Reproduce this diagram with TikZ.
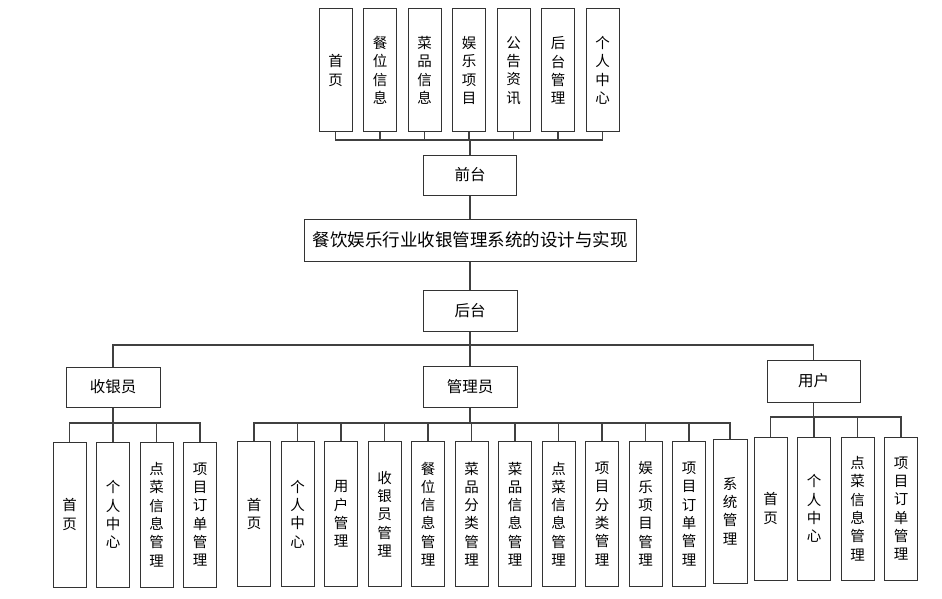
\documentclass[tikz,border=0pt]{standalone}
\usepackage{fontspec}
\newfontfamily\cjk{Noto Sans CJK SC}
\usepackage{tikz}
\usetikzlibrary{calc}

\tikzset{
  box/.style={draw=black!80, line width=1pt, minimum width=94pt, minimum height=41pt, inner sep=0pt,
    font=\cjk\fontsize{15.5}{18}\selectfont},
  vbox/.style={draw=black!80, line width=1pt, minimum width=33pt, minimum height=145pt, inner sep=0pt,
    align=center, font=\cjk\fontsize{14.5}{18.3}\selectfont},
  link/.style={draw=black!75, line width=1.1pt},
}

\begin{document}
\begin{tikzpicture}[x=1pt,y=-1pt]
			\useasboundingbox (0,0) rectangle (942,599);

			% oben: Vordergrund
			\node[vbox, minimum height=123pt] (t1) at (335.5,70.5) {首\\页};
			\node[vbox, minimum height=123pt] (t2) at ($(t1)+(44.5,0)$) {餐\\位\\信\\息};
			\node[vbox, minimum height=123pt] (t3) at ($(t2)+(44.5,0)$) {菜\\品\\信\\息};
			\node[vbox, minimum height=123pt] (t4) at ($(t3)+(44.5,0)$) {娱\\乐\\项\\目};
			\node[vbox, minimum height=123pt] (t5) at ($(t4)+(44.5,0)$) {公\\告\\资\\讯};
			\node[vbox, minimum height=123pt] (t6) at ($(t5)+(44.5,0)$) {后\\台\\管\\理};
			\node[vbox, minimum height=123pt] (t7) at ($(t6)+(44.5,0)$) {个\\人\\中\\心};

			\node[box, minimum width=93pt, minimum height=40pt] (qian) at (470,175) {前台};
			\node[box, minimum width=332pt, minimum height=42pt, font=\cjk\fontsize{17.5}{18}\selectfont] (sys) at (470,240) {餐饮娱乐行业收银管理系统的设计与实现};
			\node[box] (hou) at (470,310.5) {后台};

			\coordinate (busT) at (470,140);
			\coordinate (busH) at (470,345);

			% zweite Ebene
			\node[box, minimum height=40pt] (syy) at (113,387) {收银员};
			\node[box] (gly) at (470,386.5) {管理员};
			\node[box, minimum width=93pt, minimum height=42pt] (yh) at (813.5,381) {用户};

			%收银员
			\node[vbox] (s1) at (69.5,514.5) {首\\页};
			\node[vbox] (s2) at ($(s1)+(43.5,0)$) {个\\人\\中\\心};
			\node[vbox] (s3) at ($(s2)+(43.5,0)$) {点\\菜\\信\\息\\管\\理};
			\node[vbox] (s4) at ($(s3)+(43.5,0)$) {项\\目\\订\\单\\管\\理};

			% 管理员
			\node[vbox] (g1) at (254,514) {首\\页};
			\node[vbox] (g2) at ($(g1)+(43.5,0)$) {个\\人\\中\\心};
			\node[vbox] (g3) at ($(g2)+(43.5,0)$) {用\\户\\管\\理};
			\node[vbox] (g4) at ($(g3)+(43.5,0)$) {收\\银\\员\\管\\理};
			\node[vbox] (g5) at ($(g4)+(43.5,0)$) {餐\\位\\信\\息\\管\\理};
			\node[vbox] (g6) at ($(g5)+(43.5,0)$) {菜\\品\\分\\类\\管\\理};
			\node[vbox] (g7) at ($(g6)+(43.5,0)$) {菜\\品\\信\\息\\管\\理};
			\node[vbox] (g8) at ($(g7)+(43.5,0)$) {点\\菜\\信\\息\\管\\理};
			\node[vbox] (g9) at ($(g8)+(43.5,0)$) {项\\目\\分\\类\\管\\理};
			\node[vbox] (g10) at ($(g9)+(43.5,0)$) {娱\\乐\\项\\目\\管\\理};
			\node[vbox] (g11) at ($(g10)+(43.5,0)$) {项\\目\\订\\单\\管\\理};
			\node[vbox, minimum width=34pt, minimum height=144pt] (g12) at (730,511) {系\\统\\管\\理};

			% 用户
			\node[vbox, minimum height=143pt] (u1) at (770.5,508.5) {首\\页};
			\node[vbox, minimum height=143pt] (u2) at ($(u1)+(43.5,0)$) {个\\人\\中\\心};
			\node[vbox, minimum height=143pt] (u3) at ($(u2)+(43.5,0)$) {点\\菜\\信\\息\\管\\理};
			\node[vbox, minimum height=143pt] (u4) at ($(u3)+(43.5,0)$) {项\\目\\订\\单\\管\\理};

			\coordinate (busS) at (113,423);
			\coordinate (busG) at (470,423);
			\coordinate (busU) at (813.5,417);

			\draw[link] (t1.south) |- (busT);
			\draw[link] (t2.south) |- (busT);
			\draw[link] (t3.south) |- (busT);
			\draw[link] (t4.south) |- (busT);
			\draw[link] (t5.south) |- (busT);
			\draw[link] (t6.south) |- (busT);
			\draw[link] (t7.south) |- (busT);
			\draw[link] (busT) -- (qian.north);
			\draw[link] (qian.south) -- (sys.north);
			\draw[link] (sys.south) -- (hou.north);
			\draw[link] (hou.south) -- (gly.north);
			\draw[link] (syy.north) |- (busH) -| (yh.north);

			\draw[link] (syy.south) -- (busS);
			\draw[link] (s1.north) |- (busS);
			\draw[link] (s2.north) |- (busS);
			\draw[link] (s3.north) |- (busS);
			\draw[link] (s4.north) |- (busS);

			\draw[link] (gly.south) -- (busG);
			\draw[link] (g1.north) |- (busG);
			\draw[link] (g2.north) |- (busG);
			\draw[link] (g3.north) |- (busG);
			\draw[link] (g4.north) |- (busG);
			\draw[link] (g5.north) |- (busG);
			\draw[link] (g6.north) |- (busG);
			\draw[link] (g7.north) |- (busG);
			\draw[link] (g8.north) |- (busG);
			\draw[link] (g9.north) |- (busG);
			\draw[link] (g10.north) |- (busG);
			\draw[link] (g11.north) |- (busG);
			\draw[link] (g12.north) |- (busG);

			\draw[link] (yh.south) -- (busU);
			\draw[link] (u1.north) |- (busU);
			\draw[link] (u2.north) |- (busU);
			\draw[link] (u3.north) |- (busU);
			\draw[link] (u4.north) |- (busU);

		\end{tikzpicture}
\end{document}
